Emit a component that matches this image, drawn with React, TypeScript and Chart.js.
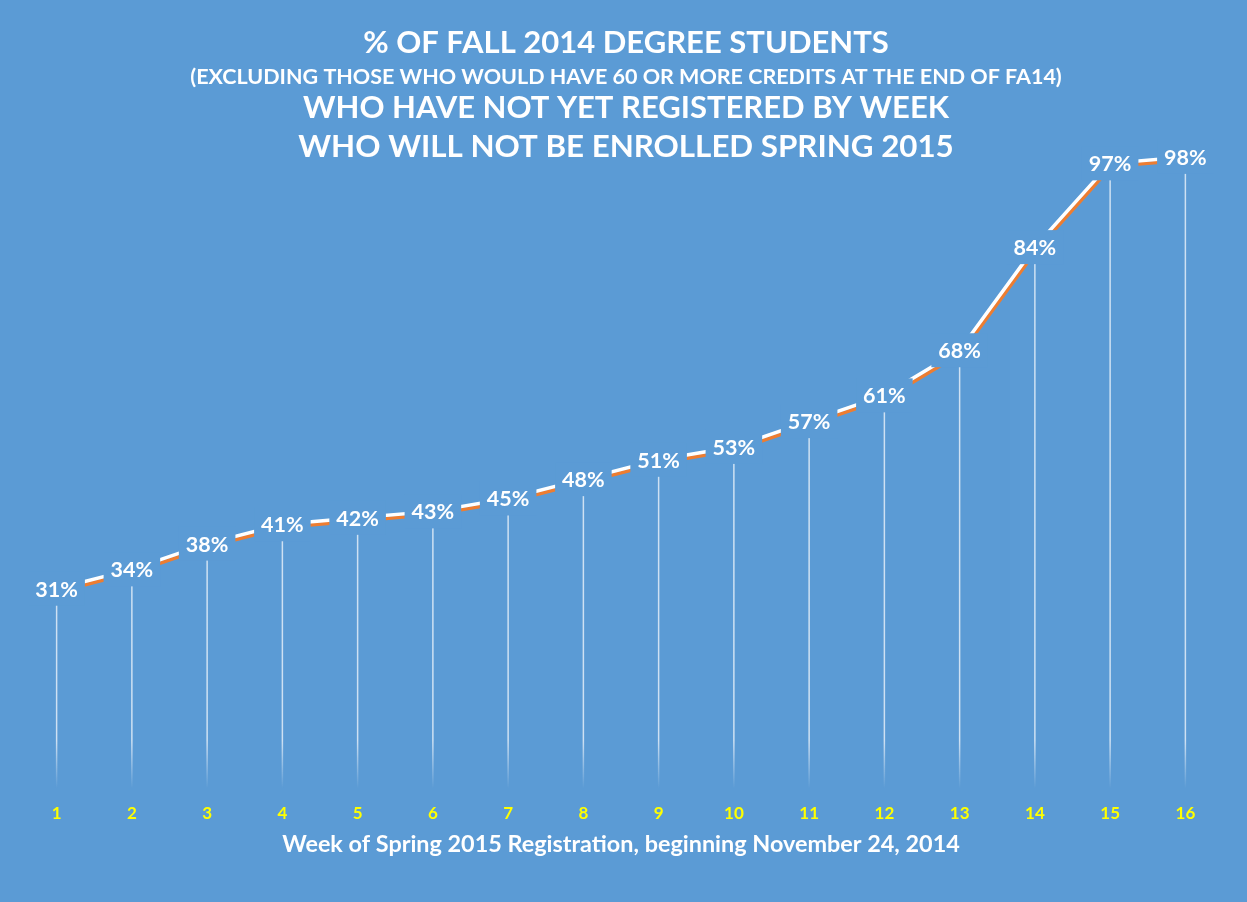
import React, { useEffect, useRef } from 'react';
import { Chart, registerables } from 'chart.js';

Chart.register(...registerables);

const weeks = ['1', '2', '3', '4', '5', '6', '7', '8', '9', '10', '11', '12', '13', '14', '15', '16'];
const pctValues = [31, 34, 38, 41, 42, 43, 45, 48, 51, 53, 57, 61, 68, 84, 97, 98];
const titleMain = '% OF FALL 2014 DEGREE STUDENTS';
const titleNote = '(EXCLUDING THOSE WHO WOULD HAVE 60 OR MORE CREDITS AT THE END OF FA14)';
const titleLine3 = 'WHO HAVE NOT YET REGISTERED BY WEEK';
const titleLine4 = 'WHO WILL NOT BE ENROLLED SPRING 2015';
const xAxisTitle = 'Week of Spring 2015 Registration, beginning November 24, 2014';

const BG = '#5B9BD5';
const FONT = 'Lato, "Open Sans", sans-serif';

const decorPlugin = {
  id: 'decor',
  beforeDatasetsDraw(chart: any) {
    const ctx = chart.ctx;
    const meta = chart.getDatasetMeta(0);
    const y0 = chart.scales.y.getPixelForValue(0);
    const g = ctx.createLinearGradient(0, y0 - 48, 0, y0);
    g.addColorStop(0, 'rgba(235,242,250,0.8)');
    g.addColorStop(1, 'rgba(235,242,250,0)');
    ctx.save();
    ctx.strokeStyle = g;
    ctx.lineWidth = 1.5;
    meta.data.forEach((pt: any) => {
      ctx.beginPath();
      ctx.moveTo(pt.x, pt.y);
      ctx.lineTo(pt.x, y0);
      ctx.stroke();
    });
    ctx.restore();
  },
  beforeDatasetDraw(chart: any) {
    const ctx = chart.ctx;
    ctx.save();
    ctx.shadowColor = '#ED7D31';
    ctx.shadowOffsetX = 1.5;
    ctx.shadowOffsetY = 3;
    ctx.shadowBlur = 0;
  },
  afterDatasetDraw(chart: any) {
    chart.ctx.restore();
  },
  afterDatasetsDraw(chart: any) {
    const ctx = chart.ctx;
    const meta = chart.getDatasetMeta(0);
    ctx.save();
    ctx.font = `bold 21.5px ${FONT}`;
    ctx.textAlign = 'center';
    ctx.textBaseline = 'middle';
    meta.data.forEach((pt: any, i: number) => {
      const txt = pctValues[i] + '%';
      const w = ctx.measureText(txt).width;
      ctx.fillStyle = BG;
      ctx.fillRect(pt.x - w / 2 - 7, pt.y - 17, w + 14, 34);
      ctx.fillStyle = '#FFFFFF';
      ctx.fillText(txt, pt.x, pt.y + 1);
    });
    ctx.restore();
  },
  afterDraw(chart: any) {
    const ctx = chart.ctx;
    const cx = 626;
    ctx.save();
    ctx.fillStyle = '#FFFFFF';
    ctx.textAlign = 'center';
    ctx.textBaseline = 'middle';
    ctx.font = `bold 31px ${FONT}`;
    ctx.fillText(titleMain, cx, 43);
    ctx.font = `bold 21.5px ${FONT}`;
    ctx.fillText(titleNote, cx, 77);
    ctx.font = `bold 31px ${FONT}`;
    ctx.fillText(titleLine3, cx, 108);
    ctx.font = `bold 31.3px ${FONT}`;
    ctx.fillText(titleLine4, cx, 147);
    ctx.restore();
  },
};

export default function App() {
  const ref = useRef<HTMLCanvasElement | null>(null);

  useEffect(() => {
    if (!ref.current) return;
    const chart = new Chart(ref.current, {
      type: 'line',
      data: {
        labels: weeks,
        datasets: [
          {
            data: pctValues,
            borderColor: '#FFFFFF',
            borderWidth: 3.5,
            pointRadius: 0,
            tension: 0,
            fill: false,
          },
        ],
      },
      options: {
        animation: false,
        responsive: true,
        maintainAspectRatio: false,
        layout: { padding: { top: 144, left: 19, right: 24, bottom: 44 } },
        plugins: {
          legend: { display: false },
          tooltip: { enabled: false },
          title: { display: false },
        },
        scales: {
          x: {
            type: 'category',
            offset: true,
            grid: { display: false, drawTicks: false },
            border: { display: false },
            ticks: {
              color: '#FFFF00',
              font: { family: FONT, size: 17, weight: 'bold' },
              padding: 15,
              maxRotation: 0,
              autoSkip: false,
            },
            title: {
              display: true,
              text: xAxisTitle,
              color: '#FFFFFF',
              font: { family: FONT, size: 23.4, weight: 'bold' },
              padding: { top: -9, bottom: 0 },
            },
          },
          y: {
            display: false,
            min: 0,
            max: 100,
          },
        },
      },
      plugins: [decorPlugin],
    } as any);
    return () => chart.destroy();
  }, []);

  return (
    <div
      style={{
        position: 'absolute',
        left: 0,
        top: 0,
        width: 1247,
        height: 902,
        background: BG,
      }}
    >
      <canvas ref={ref} />
    </div>
  );
}
